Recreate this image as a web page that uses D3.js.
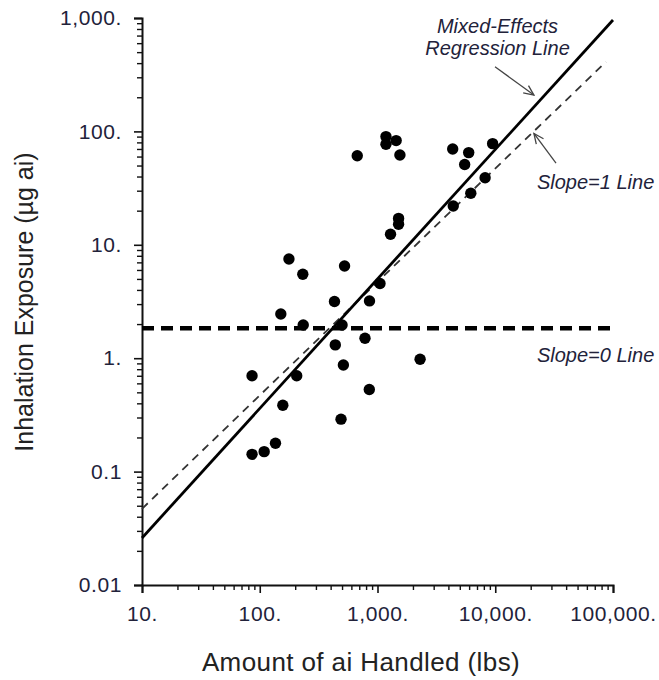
<!DOCTYPE html>
<html>
<head>
<meta charset="utf-8">
<script src="https://d3js.org/d3.v7.min.js"></script>
<style>
  body { margin: 0; background: #fff; }
  svg text { font-family: "Liberation Sans", Arial, sans-serif; }
</style>
</head>
<body>
<svg id="chart" width="659" height="680"></svg>
<script>
// observations: amount of ai handled (lbs) vs inhalation exposure (ug ai)
const amountHandled = [86, 206, 157, 86, 109, 136, 177, 232, 151, 234, 431, 525, 500, 438, 783, 855, 1050, 513, 2300, 852, 490, 1290, 1510, 1510, 673, 1180, 1180, 1440, 1550, 4350, 5950, 5500, 9500, 8200, 6200, 4400];
const exposure = [0.70, 0.70, 0.385, 0.142, 0.150, 0.178, 7.5, 5.5, 2.45, 1.96, 3.16, 6.5, 1.96, 1.31, 1.5, 3.2, 4.56, 0.87, 0.98, 0.53, 0.29, 12.4, 17.1, 15.2, 61, 90, 77, 83, 62, 70, 65, 51, 78, 39, 28.5, 22];

// fitted lines (end points)
const regressionLine = [[10, 0.026], [100000, 960]];
const slopeOneLine = [[10, 0.047], [87000, 410]];
const slopeZeroLine = [[10, 1.84], [100000, 1.84]];

// ticks
const xTickValues = [10, 100, 1000, 10000, 100000];
const xTickLabels = ["10.", "100.", "1,000.", "10,000.", "100,000."];
const yTickValues = [0.01, 0.1, 1, 10, 100, 1000];
const yTickLabels = ["0.01", "0.1", "1.", "10.", "100.", "1,000."];

const svg = d3.select("#chart");
const margin = {left: 142, right: 46, top: 18, bottom: 95};
const W = 659, H = 680;

const x = d3.scaleLog().domain([10, 100000]).range([margin.left, W - margin.right]);
const y = d3.scaleLog().domain([0.01, 1000]).range([H - margin.bottom, margin.top]);

function minorTicks(lo, hi) {
  const out = [];
  for (let d = lo; d < hi; d *= 10)
    for (let k = 2; k <= 9; k++) out.push(d * k);
  return out;
}

// minor ticks
svg.append("g")
  .attr("transform", `translate(0,${y.range()[0]})`)
  .call(d3.axisBottom(x).tickValues(minorTicks(10, 100000)).tickSize(5).tickFormat(""))
  .call(g => g.select(".domain").remove())
  .call(g => g.selectAll("line").attr("stroke", "#111").attr("stroke-width", 1.4));
svg.append("g")
  .attr("transform", `translate(${x.range()[0]},0)`)
  .call(d3.axisLeft(y).tickValues(minorTicks(0.01, 1000)).tickSize(5).tickFormat(""))
  .call(g => g.select(".domain").remove())
  .call(g => g.selectAll("line").attr("stroke", "#111").attr("stroke-width", 1.4));

// major ticks + labels
const xAxis = svg.append("g")
  .attr("transform", `translate(0,${y.range()[0]})`)
  .call(d3.axisBottom(x).tickValues(xTickValues).tickSizeOuter(0).tickSize(8).tickPadding(13)
    .tickFormat((d, i) => xTickLabels[i]));
const yAxis = svg.append("g")
  .attr("transform", `translate(${x.range()[0]},0)`)
  .call(d3.axisLeft(y).tickValues(yTickValues).tickSizeOuter(0).tickSize(8).tickPadding(12)
    .tickFormat((d, i) => yTickLabels[i]));

[xAxis, yAxis].forEach(g => {
  g.select(".domain").attr("stroke", "#111").attr("stroke-width", 2);
  g.selectAll(".tick line").attr("stroke", "#111").attr("stroke-width", 1.6);
  g.selectAll(".tick text")
    .attr("fill", "#22223a")
    .style("font-size", "21px")
    .style("letter-spacing", "0.6px")
    .style("font-family", "'Liberation Sans', Arial, sans-serif");
});

// axis titles
svg.append("text")
  .attr("x", 361)
  .attr("y", 671)
  .attr("text-anchor", "middle")
  .style("font-size", "26px")
  .style("letter-spacing", "0.4px")
  .attr("fill", "#222")
  .text("Amount of ai Handled (lbs)");

svg.append("text")
  .attr("transform", "translate(33,302) rotate(-90)")
  .attr("text-anchor", "middle")
  .style("font-size", "25px")
  .attr("fill", "#222")
  .text("Inhalation Exposure (µg ai)");

// lines
const line = d3.line().x(d => x(d[0])).y(d => y(d[1]));

svg.append("path").datum(slopeZeroLine)
  .attr("d", line).attr("fill", "none")
  .attr("stroke", "#000").attr("stroke-width", 4.5)
  .attr("stroke-dasharray", "12,7");

svg.append("path").datum(slopeOneLine)
  .attr("d", line).attr("fill", "none")
  .attr("stroke", "#333").attr("stroke-width", 1.8)
  .attr("stroke-dasharray", "8,6");

svg.append("path").datum(regressionLine)
  .attr("d", line).attr("fill", "none")
  .attr("stroke", "#000").attr("stroke-width", 2.8);

// points
svg.append("g").selectAll("circle")
  .data(d3.zip(amountHandled, exposure))
  .join("circle")
  .attr("cx", d => x(d[0]))
  .attr("cy", d => y(d[1]))
  .attr("r", 5.7)
  .attr("fill", "#000");

// annotations
svg.append("defs").append("marker")
  .attr("id", "arrow")
  .attr("viewBox", "0 0 12 12")
  .attr("refX", 11).attr("refY", 6)
  .attr("markerWidth", 12).attr("markerHeight", 12)
  .attr("markerUnits", "userSpaceOnUse")
  .attr("orient", "auto")
  .append("path")
  .attr("d", "M1,1.5 L11,6 L1,10.5")
  .attr("fill", "none").attr("stroke", "#444").attr("stroke-width", 1.3);

const arrows = [
  [[9950, 372], [21300, 209]],
  [[32800, 52.6], [21300, 96]]
];
svg.append("g").selectAll("path")
  .data(arrows)
  .join("path")
  .attr("d", line)
  .attr("stroke", "#444").attr("stroke-width", 1.3)
  .attr("fill", "none")
  .attr("marker-end", "url(#arrow)");

const notes = [
  {text: "Mixed-Effects", at: [10450, 738], anchor: "middle"},
  {text: "Regression Line", at: [10450, 472], anchor: "middle"},
  {text: "Slope=1 Line", at: [22600, 31], anchor: "start"},
  {text: "Slope=0 Line", at: [22600, 0.93], anchor: "start"}
];
svg.append("g").selectAll("text")
  .data(notes)
  .join("text")
  .attr("x", d => x(d.at[0]))
  .attr("y", d => y(d.at[1]))
  .attr("text-anchor", d => d.anchor)
  .style("font-size", "20px")
  .style("font-style", "italic")
  .attr("fill", "#22223a")
  .text(d => d.text);
</script>
</body>
</html>
